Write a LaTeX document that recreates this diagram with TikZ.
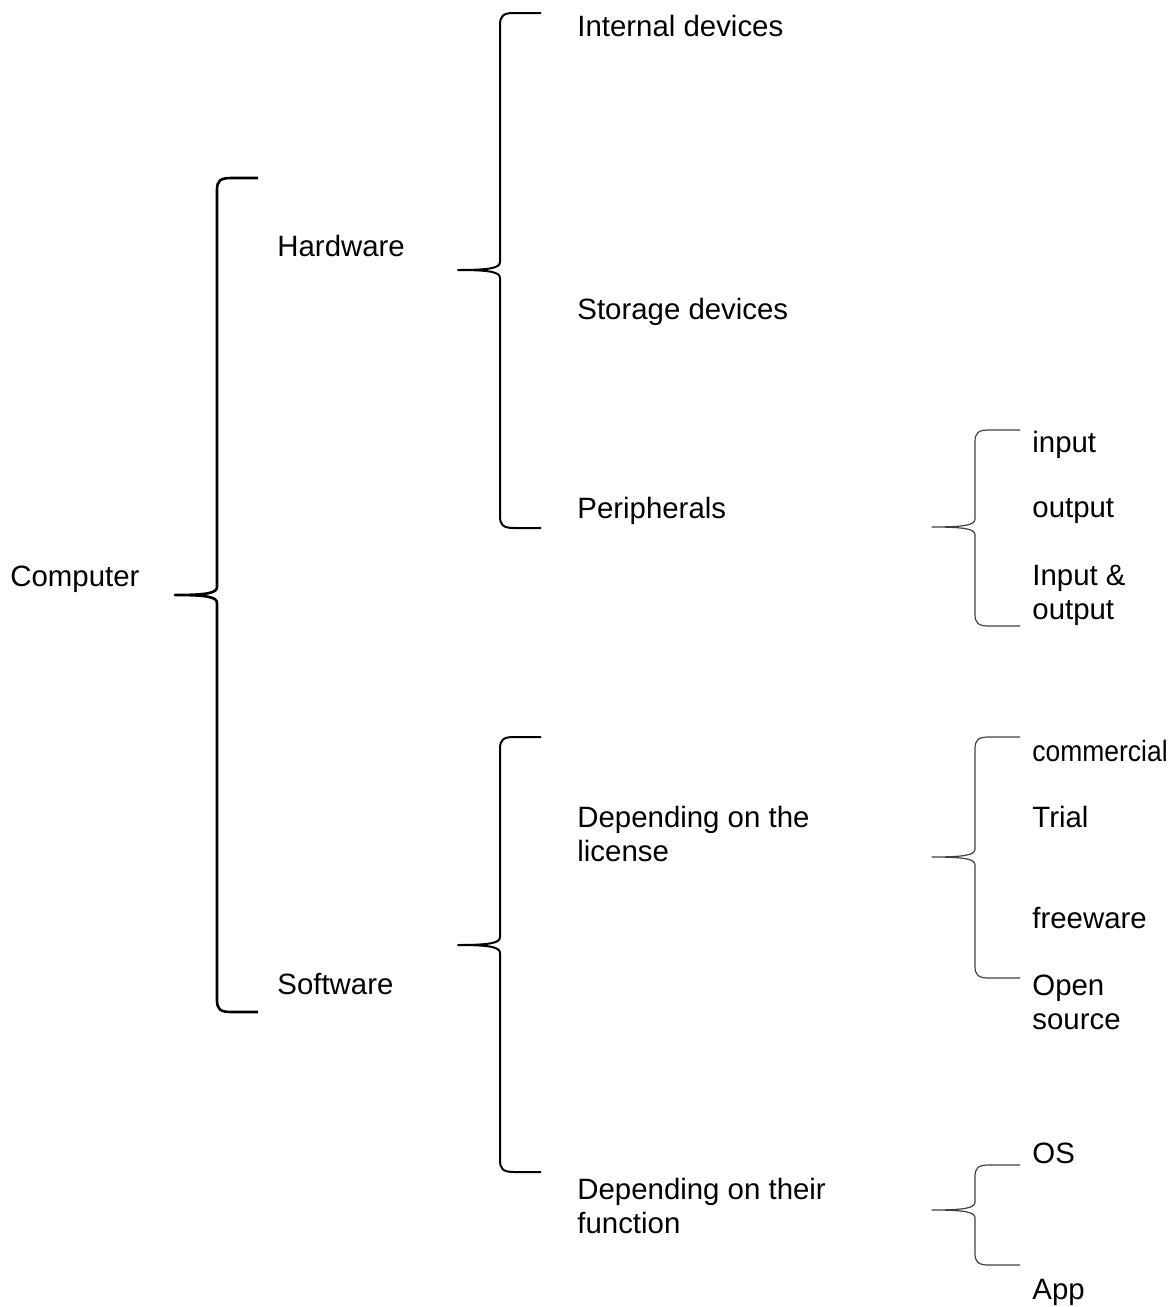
\documentclass[tikz,border=0pt]{standalone}
\usepackage{fontspec}
\setmainfont{Liberation Sans}
\usepackage{tikz}

% tip x, stem x, arm x, top y, middle y, bottom y
\newcommand\clbrace[7][]{%
  \draw[#1] (#4,#5) -- ({#3+14},#5) .. controls ({#3+3},#5) and (#3,{#5+3}) .. (#3,{#5+12})
    -- (#3,{#6-8}) .. controls (#3,{#6-2}) and ({#3-10},#6) .. (#2,#6)
    .. controls ({#3-10},#6) and (#3,{#6+2}) .. (#3,{#6+8})
    -- (#3,{#7-12}) .. controls (#3,{#7-3}) and ({#3+3},#7) .. ({#3+14},#7) -- (#4,#7);}

\begin{document}
\begin{tikzpicture}[x=0.5pt,y=-0.5pt,
	lbl/.style={anchor=west,inner sep=0pt,align=left,
		font=\fontsize{14.7}{17}\selectfont},
	big brace/.style={line width=1.3pt,line join=round},
	mid brace/.style={line width=1pt,line join=round},
	small brace/.style={line width=0.6pt,draw=black!75,line join=round}]

	\useasboundingbox (0,0) rectangle (1176,1307);

	\node[lbl] (computer) at (10,579) {Computer};
	\node[lbl] (hardware) at (277,246) {Hardware};
	\node[lbl] (software) at (277,984) {Software};

	\node[lbl] (internal) at (577,26) {Internal devices};
	\node[lbl] (storage) at (577,312) {Storage devices};
	\node[lbl] (periph) at (577,511) {Peripherals};

	\node[lbl] (input) at (1032,445) {input};
	\node[lbl] (output) at (1032,511) {output};
	\node[lbl] (inout) at (1032,595) {Input \&\\output};

	\node[lbl] (license) at (577,834) {Depending on the\\license};
	\node[lbl] (function) at (577,1206) {Depending on their\\function};

	\node[lbl] (commercial) at (1032,751) {\scalebox{0.9}[1]{commercial}};
	\node[lbl] (trial) at (1032,817) {Trial};
	\node[lbl] (freeware) at (1032,918) {freeware};
	\node[lbl] (open) at (1032,1002) {Open\\source};

	\node[lbl] (os) at (1032,1153) {OS};
	\node[lbl] (app) at (1032,1292) {App};

	\clbrace[big brace]{175}{217}{258}{178}{595}{1012}
	\clbrace[mid brace]{458}{500}{541}{13}{270}{528}
	\clbrace[mid brace]{458}{500}{541}{737}{945}{1172}
	\clbrace[small brace]{932}{975}{1020}{430}{527}{626}
	\clbrace[small brace]{932}{975}{1020}{737}{857}{978}
	\clbrace[small brace]{932}{975}{1020}{1165}{1210}{1265}
\end{tikzpicture}
\end{document}
